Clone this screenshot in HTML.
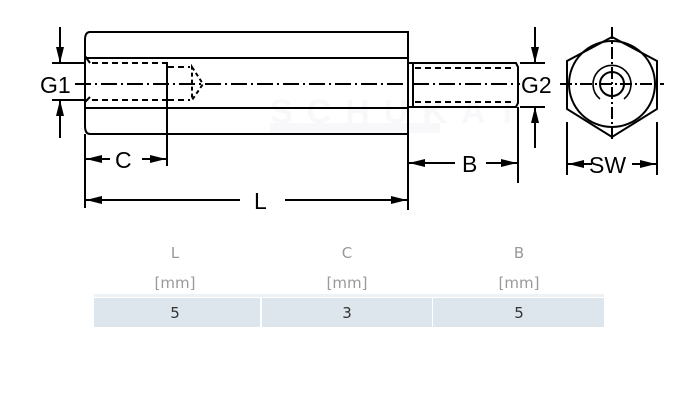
<!DOCTYPE html>
<html><head><meta charset="utf-8"><style>
body{margin:0;background:#fff;width:700px;height:412px;overflow:hidden;font-family:"Liberation Sans",sans-serif}
.t{position:absolute;font-family:"DejaVu Sans","Liberation Sans",sans-serif;font-size:15px;color:#999;text-align:center;width:172px}
</style></head><body>
<svg width="700" height="412" style="position:absolute;left:0;top:0" xmlns="http://www.w3.org/2000/svg">
<defs>
<marker id="a" viewBox="0 0 16 8" refX="16" refY="4" markerWidth="16" markerHeight="8" markerUnits="userSpaceOnUse" orient="auto"><path d="M0,0L16,4L0,8z" fill="#000"/></marker>
</defs>
<g fill="#f8f8fa">
<text x="270" y="123" font-family="Liberation Sans" font-weight="bold" font-size="34" letter-spacing="14">SCHUKAT</text>
<rect x="270" y="123" width="170" height="10"/>
</g>
<g stroke="#000" stroke-width="2" fill="none">
<path d="M85,40 Q85,32 90,32 L408,32 L408,134 L90,134 Q85,134 85,126 Z"/>
<line x1="85" y1="58" x2="408" y2="58"/><line x1="85" y1="108" x2="408" y2="108"/>
<path d="M85,56 L90,63 M85,102 L90,97"/>
<g stroke-dasharray="6,4"><line x1="92" y1="63" x2="168" y2="63"/><line x1="92" y1="100" x2="168" y2="100"/><line x1="168" y1="67" x2="190" y2="67"/><line x1="168" y1="100" x2="190" y2="100"/></g>
<path d="M192,67 L203,84 L192,100 Z" stroke-dasharray="4,3"/>
<line x1="75" y1="84" x2="520" y2="84" stroke-dasharray="16,4,2,4"/>
<path d="M408,63 L516,63 L518,67 L518,103 L516,107 L408,107"/>
<line x1="413" y1="63" x2="413" y2="107"/>
<g stroke-dasharray="6,4"><line x1="415" y1="68" x2="514" y2="68"/><line x1="415" y1="102" x2="514" y2="102"/></g>
<line x1="52" y1="63" x2="85" y2="63"/><line x1="52" y1="100" x2="85" y2="100"/>
<line x1="60" y1="27" x2="60" y2="63" marker-end="url(#a)"/>
<line x1="60" y1="138" x2="60" y2="100" marker-end="url(#a)"/>
<line x1="167" y1="63" x2="167" y2="166"/>
<line x1="110" y1="159" x2="86" y2="159" marker-end="url(#a)"/>
<line x1="142" y1="159" x2="166" y2="159" marker-end="url(#a)"/>
<line x1="85" y1="134" x2="85" y2="208"/><line x1="408" y1="134" x2="408" y2="210"/>
<line x1="240" y1="200" x2="86" y2="200" marker-end="url(#a)"/>
<line x1="285" y1="200" x2="407" y2="200" marker-end="url(#a)"/>
<line x1="518" y1="107" x2="518" y2="183"/>
<line x1="455" y1="163" x2="409" y2="163" marker-end="url(#a)"/>
<line x1="486" y1="163" x2="517" y2="163" marker-end="url(#a)"/>
<line x1="520" y1="63" x2="545" y2="63"/><line x1="520" y1="107" x2="545" y2="107"/>
<line x1="535" y1="27" x2="535" y2="63" marker-end="url(#a)"/>
<line x1="535" y1="148" x2="535" y2="107" marker-end="url(#a)"/>
<polygon points="612,37 657,61 657,109 612,137 567,109 567,61"/>
<circle cx="612" cy="84" r="43"/>
<circle cx="612" cy="84" r="12"/>
<path d="M600,99 A19,19 0 1 1 624,99" stroke-width="1.6"/>
<line x1="612" y1="27" x2="612" y2="141" stroke-dasharray="12,3,2,3"/>
<line x1="560" y1="84" x2="664" y2="84" stroke-dasharray="12,3,2,3"/>
<line x1="567" y1="122" x2="567" y2="175"/><line x1="657" y1="122" x2="657" y2="175"/>
<line x1="592" y1="164" x2="568" y2="164" marker-end="url(#a)"/>
<line x1="632" y1="164" x2="656" y2="164" marker-end="url(#a)"/>
</g>
<g font-family="Liberation Sans" font-size="23" fill="#000">
<text x="40" y="93">G1</text>
<text x="115" y="168">C</text>
<text x="254" y="209">L</text>
<text x="462" y="172">B</text>
<text x="521" y="93">G2</text>
<text x="589" y="173">SW</text>
</g>
<rect x="94" y="294" width="510" height="3" fill="#eef2f5"/>
<rect x="94" y="298" width="166" height="29" fill="#dde6ec"/>
<rect x="262" y="298" width="170" height="29" fill="#dde6ec"/>
<rect x="433" y="298" width="171" height="29" fill="#dde6ec"/>
</svg>
<div class="t" style="left:89px;top:244px">L</div>
<div class="t" style="left:261px;top:244px">C</div>
<div class="t" style="left:433px;top:244px">B</div>
<div class="t" style="left:89px;top:274px">[mm]</div>
<div class="t" style="left:261px;top:274px">[mm]</div>
<div class="t" style="left:433px;top:274px">[mm]</div>
<div class="t" style="left:89px;top:304px;color:#333">5</div>
<div class="t" style="left:261px;top:304px;color:#333">3</div>
<div class="t" style="left:433px;top:304px;color:#333">5</div>
</body></html>
